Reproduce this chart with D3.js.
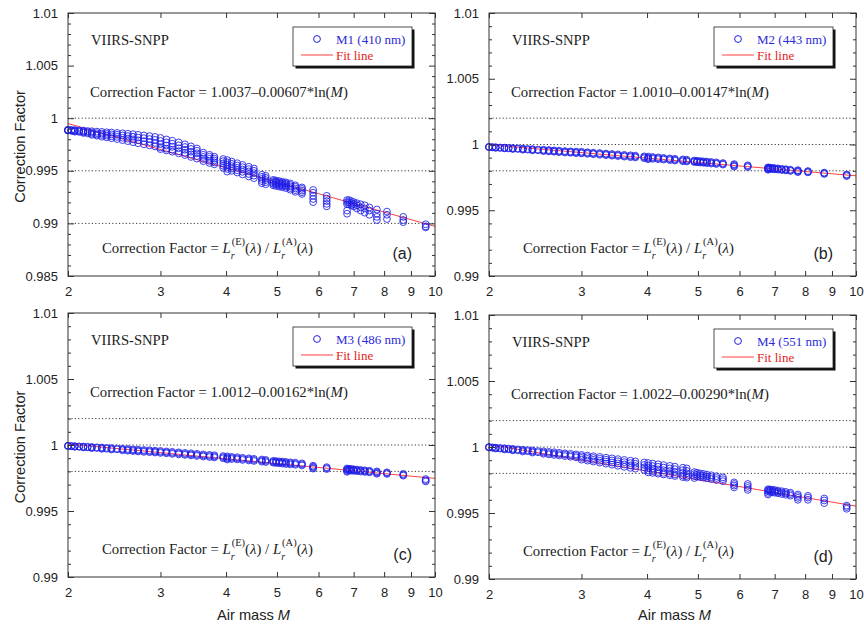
<!DOCTYPE html>
<html>
<head>
<meta charset="utf-8">
<script src="https://cdn.jsdelivr.net/npm/d3@7"></script>
<style>
  body { margin: 0; background: #fff; }
  .serif { font-family: "Liberation Serif", "Times New Roman", serif; }
  .sans  { font-family: "Liberation Sans", Arial, sans-serif; }
</style>
</head>
<body>
<svg id="chart" width="864" height="628"></svg>
<script>
"use strict";

// ==========  Data  ==========
// air mass values (shared geometry), then the correction factors seen at each one, per band
var airMass = [2.00, 2.03, 2.06, 2.10, 2.14, 2.18, 2.22, 2.27, 2.32, 2.37,
               2.42, 2.48, 2.54, 2.60, 2.66, 2.72, 2.79, 2.86, 2.93, 3.00,
               3.08, 3.16, 3.25, 3.34, 3.43, 3.52, 3.62, 3.72, 3.80, 3.95,
               4.02, 4.10, 4.20, 4.30, 4.42, 4.52, 4.68, 4.76, 4.92, 4.98,
               5.05, 5.12, 5.20, 5.30, 5.42, 5.58, 5.86, 6.22, 6.80, 6.86,
               6.93, 7.00, 7.10, 7.22, 7.35, 7.50, 7.75, 8.10, 8.70, 9.60]

var cfM1 = [
  [0.9989, 0.99888, 0.99885, 0.99882], [0.99888, 0.99884, 0.9988], [0.99887, 0.99882, 0.99876, 0.99872], [0.99884, 0.99877, 0.9987],
  [0.99882, 0.99874, 0.99866, 0.9986], [0.99878, 0.99868, 0.99856], [0.99876, 0.99864, 0.99852, 0.99842], [0.99872, 0.99858, 0.99844, 0.99834],
  [0.9987, 0.99854, 0.9984, 0.99824], [0.99866, 0.9985, 0.99834, 0.99818], [0.99864, 0.99846, 0.99828, 0.9981], [0.9986, 0.99842, 0.99822, 0.99802],
  [0.99856, 0.99836, 0.99814, 0.99792], [0.99852, 0.9983, 0.99806, 0.99782], [0.99848, 0.99824, 0.99798, 0.99772], [0.99842, 0.99816, 0.9979, 0.99762],
  [0.99836, 0.9981, 0.99782, 0.99752], [0.9983, 0.99802, 0.99774, 0.99742], [0.99822, 0.99794, 0.99764, 0.99732], [0.99812, 0.99784, 0.99754, 0.99722, 0.99706],
  [0.99798, 0.9977, 0.9974, 0.9971, 0.99694], [0.99786, 0.99758, 0.99728, 0.997, 0.99682], [0.9977, 0.99742, 0.99714, 0.99686, 0.99666], [0.99752, 0.99726, 0.997, 0.99672, 0.9965],
  [0.99732, 0.99708, 0.99682, 0.99656, 0.99632], [0.99712, 0.9969, 0.99666, 0.9964, 0.99616], [0.99672, 0.99652, 0.99632, 0.99612, 0.99592], [0.99652, 0.99634, 0.99614, 0.99594, 0.99574],
  [0.99634, 0.99616, 0.99598, 0.9958, 0.99562], [0.99612, 0.99592, 0.9957, 0.99548, 0.99528], [0.99602, 0.9958, 0.99558, 0.99538, 0.99518, 0.99492], [0.99588, 0.99566, 0.99544, 0.99522, 0.995],
  [0.99572, 0.9955, 0.99528, 0.99506, 0.99484], [0.99556, 0.99534, 0.99512, 0.9949, 0.99466], [0.99538, 0.99516, 0.99494, 0.9947, 0.99446], [0.99522, 0.995, 0.99478, 0.99454, 0.9943],
  [0.99462, 0.99442, 0.99422, 0.99402, 0.99382], [0.99452, 0.99432, 0.99412, 0.99392, 0.99372], [0.99414, 0.99402, 0.9939, 0.99376, 0.99362], [0.99408, 0.99396, 0.99384, 0.9937, 0.99356],
  [0.99402, 0.9939, 0.99378, 0.99364, 0.9935], [0.99396, 0.99384, 0.99372, 0.99358, 0.99344], [0.9939, 0.99378, 0.99364, 0.9935, 0.99336], [0.9938, 0.99366, 0.99352, 0.99336, 0.9932],
  [0.99362, 0.99348, 0.99332, 0.99316, 0.993], [0.99342, 0.99328, 0.99312, 0.99296, 0.9928], [0.99318, 0.99292, 0.99262, 0.99232, 0.99202], [0.99262, 0.99236, 0.99212, 0.99186, 0.99162],
  [0.99222, 0.99202, 0.99182, 0.99122, 0.99092], [0.99221, 0.99201, 0.99181], [0.99212, 0.99192, 0.99172], [0.99202, 0.99182, 0.99162],
  [0.99192, 0.99172, 0.99142], [0.99182, 0.99152, 0.99122], [0.99172, 0.99142, 0.99102], [0.99152, 0.99122, 0.99082],
  [0.99132, 0.99092, 0.99062, 0.99032], [0.99112, 0.99082, 0.99042], [0.99062, 0.99032, 0.99012], [0.98992, 0.98972, 0.98962]
]

var cfM2 = [
  [0.99982, 0.99981, 0.9998], [0.9998, 0.99978], [0.99979, 0.99977, 0.99975], [0.99977, 0.99974],
  [0.99976, 0.99973, 0.99971], [0.99974, 0.9997], [0.99973, 0.99969, 0.99966], [0.9997, 0.99966],
  [0.99969, 0.99965, 0.99961], [0.99966, 0.99961], [0.99965, 0.9996, 0.99956], [0.99962, 0.99956],
  [0.9996, 0.99955, 0.9995], [0.99958, 0.99952, 0.99948], [0.99955, 0.9995, 0.99945], [0.99953, 0.99947, 0.99942],
  [0.9995, 0.99944, 0.99939], [0.99948, 0.99942, 0.99937], [0.99946, 0.9994, 0.99934], [0.99945, 0.99938, 0.99932],
  [0.99941, 0.99935, 0.99929], [0.99938, 0.99932, 0.99926], [0.99935, 0.99929, 0.99922], [0.99931, 0.99925, 0.99919],
  [0.99928, 0.99921, 0.99915], [0.99925, 0.99918, 0.99912], [0.99921, 0.99914, 0.99908], [0.99918, 0.99911, 0.99904],
  [0.99915, 0.99908, 0.99902], [0.9991, 0.99903, 0.99896], [0.99908, 0.999, 0.99894, 0.99888], [0.99905, 0.99898, 0.99891],
  [0.99902, 0.99895, 0.99888], [0.99898, 0.99892, 0.99885], [0.99894, 0.99888, 0.99881], [0.99891, 0.99884, 0.99878],
  [0.99887, 0.9988, 0.99873], [0.99884, 0.99877, 0.99871], [0.99878, 0.99872, 0.99867], [0.99876, 0.9987, 0.99865],
  [0.99874, 0.99868, 0.99863], [0.99872, 0.99866, 0.99861], [0.9987, 0.99864, 0.99858], [0.99867, 0.99861, 0.99855],
  [0.99864, 0.99857, 0.99852], [0.99859, 0.99853, 0.99847], [0.99851, 0.99845, 0.99838, 0.99832], [0.99842, 0.99835, 0.99828],
  [0.99826, 0.99822, 0.99818, 0.99812, 0.99808], [0.99824, 0.9982, 0.99815], [0.99822, 0.99818, 0.99813], [0.9982, 0.99816, 0.99811],
  [0.99818, 0.99814, 0.99809], [0.99815, 0.99811, 0.99806], [0.99812, 0.99808, 0.99803], [0.99808, 0.99804, 0.99799],
  [0.99805, 0.998, 0.99795, 0.9979], [0.99798, 0.99793, 0.99788], [0.99786, 0.99781, 0.99776], [0.99772, 0.99766, 0.9976]
]

var cfM3 = [
  [0.99994, 0.99993, 0.99992], [0.99992, 0.9999], [0.99991, 0.99989, 0.99987], [0.99989, 0.99986],
  [0.99988, 0.99985, 0.99982], [0.99986, 0.99982], [0.99985, 0.9998, 0.99977], [0.99982, 0.99977],
  [0.99981, 0.99976, 0.99971], [0.99978, 0.99972], [0.99977, 0.99971, 0.99966], [0.99973, 0.99967],
  [0.99972, 0.99966, 0.9996], [0.9997, 0.99963, 0.99957], [0.99967, 0.99961, 0.99954], [0.99965, 0.99958, 0.99951],
  [0.99962, 0.99955, 0.99948], [0.9996, 0.99953, 0.99946], [0.99957, 0.9995, 0.99943], [0.99955, 0.99948, 0.9994],
  [0.99951, 0.99944, 0.99937], [0.99948, 0.9994, 0.99933], [0.99944, 0.99937, 0.99929], [0.9994, 0.99932, 0.99925],
  [0.99937, 0.99929, 0.99921], [0.99933, 0.99925, 0.99917], [0.99929, 0.99921, 0.99913], [0.99925, 0.99917, 0.99909],
  [0.99922, 0.99914, 0.99906], [0.99916, 0.99908, 0.999], [0.99914, 0.99905, 0.99897, 0.9989], [0.9991, 0.99902, 0.99894],
  [0.99907, 0.99899, 0.99891], [0.99903, 0.99895, 0.99887], [0.99899, 0.99891, 0.99883], [0.99895, 0.99887, 0.99879],
  [0.9989, 0.99882, 0.99874], [0.99887, 0.99879, 0.99871], [0.9988, 0.99873, 0.99866], [0.99878, 0.99871, 0.99864],
  [0.99876, 0.99869, 0.99862], [0.99874, 0.99867, 0.99859], [0.99872, 0.99864, 0.99856], [0.99869, 0.99861, 0.99853],
  [0.99866, 0.99858, 0.9985], [0.99861, 0.99853, 0.99845], [0.99843, 0.99836, 0.99829, 0.99821], [0.99832, 0.99825, 0.99818],
  [0.99822, 0.99816, 0.99811, 0.99803, 0.99797], [0.9982, 0.99814, 0.99808], [0.99818, 0.99812, 0.99806], [0.99816, 0.9981, 0.99804],
  [0.99814, 0.99808, 0.99802], [0.99811, 0.99805, 0.99799], [0.99808, 0.99802, 0.99796], [0.99805, 0.99799, 0.99793],
  [0.998, 0.99794, 0.99788, 0.99782], [0.99793, 0.99787, 0.99781], [0.99781, 0.99774, 0.99768], [0.99742, 0.99733, 0.99724]
]

var cfM4 = [
  [1.0, 0.99998, 0.99996], [0.99997, 0.99994], [0.99995, 0.99992, 0.99989], [0.99993, 0.99988],
  [0.99991, 0.99986, 0.99982], [0.99988, 0.99982], [0.99986, 0.9998, 0.99975], [0.99982, 0.99975],
  [0.9998, 0.99973, 0.99966], [0.99976, 0.99968], [0.99974, 0.99966, 0.99958], [0.99969, 0.9996],
  [0.99967, 0.99958, 0.99949], [0.99963, 0.99954, 0.99944], [0.9996, 0.9995, 0.9994], [0.99956, 0.99946, 0.99936],
  [0.99952, 0.99942, 0.99931], [0.99948, 0.99937, 0.99926], [0.99944, 0.99933, 0.99922], [0.9994, 0.99929, 0.99917, 0.99904],
  [0.99935, 0.99923, 0.9991, 0.99897], [0.9993, 0.99917, 0.99903, 0.9989], [0.99925, 0.99911, 0.99896, 0.99882], [0.99919, 0.99904, 0.99889, 0.99874],
  [0.99914, 0.99898, 0.99882, 0.99866], [0.99908, 0.99892, 0.99875, 0.99858], [0.99902, 0.99885, 0.99868, 0.9985], [0.99896, 0.99878, 0.9986, 0.99842],
  [0.99891, 0.99873, 0.99855, 0.99836], [0.99883, 0.99864, 0.99845, 0.99826], [0.99879, 0.9986, 0.99841, 0.99822, 0.99808], [0.99874, 0.99855, 0.99836, 0.99817, 0.99804],
  [0.99869, 0.9985, 0.9983, 0.9981, 0.99798], [0.99863, 0.99844, 0.99824, 0.99804, 0.99792], [0.99857, 0.99838, 0.99818, 0.99798, 0.99786], [0.99851, 0.99832, 0.99812, 0.99792, 0.9978],
  [0.99843, 0.99824, 0.99804, 0.99784, 0.99772], [0.99838, 0.99819, 0.998, 0.9978, 0.99768], [0.9981, 0.99795, 0.9978, 0.99765], [0.99805, 0.9979, 0.99775],
  [0.998, 0.99786, 0.99772], [0.99796, 0.99782, 0.99768], [0.99791, 0.99777, 0.99763], [0.99786, 0.99772, 0.99757],
  [0.99779, 0.99765, 0.9975], [0.9977, 0.99756, 0.99741], [0.99732, 0.9972, 0.99708, 0.99694], [0.9972, 0.99705, 0.9969, 0.99675],
  [0.9968, 0.99672, 0.99665, 0.99652, 0.9964], [0.99678, 0.9967, 0.9966], [0.99676, 0.99667, 0.99657], [0.99674, 0.99664, 0.99654],
  [0.9967, 0.9966, 0.9965], [0.99665, 0.99655, 0.99644], [0.9966, 0.99649, 0.99638], [0.99654, 0.99643, 0.99631],
  [0.9964, 0.99628, 0.99615, 0.996], [0.9963, 0.99617, 0.996], [0.9961, 0.99595, 0.99575], [0.99556, 0.99545, 0.99532]
]

var bandSeries   = [cfM1, cfM2, cfM3, cfM4]
var bandNames    = ["M1 (410 nm)", "M2 (443 nm)", "M3 (486 nm)", "M4 (551 nm)"]
var fitIntercept = ["1.0037", "1.0010", "1.0012", "1.0022"]
var fitSlope     = ["0.00607", "0.00147", "0.00162", "0.00290"]
var fitEndMass   = [2, 10]
var fitEndValue  = [[0.99949, 0.98972], [0.99998, 0.99762], [1.00008, 0.99747], [1.00019, 0.99552]]
var panelTags    = ["(a)", "(b)", "(c)", "(d)"]
var yDomains     = [[0.985, 1.01], [0.99, 1.01], [0.99, 1.01], [0.99, 1.01]]
var refLevels    = [[1, 0.995, 0.99], [1.002, 1, 0.998], [1.002, 1, 0.998], [1.002, 1, 0.998]]
var xTicks       = [2, 3, 4, 5, 6, 7, 8, 9, 10]

// ==========  Layout  ==========
var layout = [
  {left: 68,  top: 13,  width: 367, height: 263, yTitle: true,  xTitle: false},
  {left: 489, top: 13,  width: 367, height: 263, yTitle: false, xTitle: false},
  {left: 68,  top: 313, width: 367, height: 264, yTitle: true,  xTitle: true},
  {left: 489, top: 315, width: 367, height: 264, yTitle: false, xTitle: true}
]
var ink = "#333"

var svg = d3.select('#chart')

var styleAxis = function(g) {
  g.select('.domain').remove()
  g.selectAll('line').attr('stroke', ink)
  g.selectAll('text').attr('class', 'sans').attr('font-size', 13).attr('fill', '#222')
  g.attr('font-family', null).attr('font-size', null)
}

var drawPanel = function(p, i) {
  var g = svg.append('g').attr('transform', 'translate(' + p.left + ',' + p.top + ')')
  var x = d3.scaleLog().domain([2, 10]).range([0, p.width])
  var y = d3.scaleLinear().domain(yDomains[i]).range([p.height, 0])

  var y0 = yDomains[i][0], y1 = yDomains[i][1]
  var major = d3.range(Math.round((y1 - y0) / 0.005) + 1).map(function(k) { return +(y0 + k * 0.005).toFixed(3) })
  var minor = d3.range(Math.round((y1 - y0) / 0.001) + 1).map(function(k) { return +(y0 + k * 0.001).toFixed(3) })
                .filter(function(v) { return major.indexOf(v) < 0 })

  // dotted reference levels
  g.selectAll('line.ref').data(refLevels[i]).enter().append('line').attr('class', 'ref')
    .attr('x1', 0).attr('x2', p.width)
    .attr('y1', function(d) { return y(d) }).attr('y2', function(d) { return y(d) })
    .attr('stroke', '#222').attr('stroke-width', 0.9).attr('stroke-dasharray', '1.2,2.2')

  // fit line (straight in log-x)
  var fitPts = fitEndMass.map(function(m, k) { return [m, fitEndValue[i][k]] })
  g.append('path').datum(fitPts)
    .attr('d', d3.line().x(function(d) { return x(d[0]) }).y(function(d) { return y(d[1]) }))
    .attr('fill', 'none').attr('stroke', '#ff2a2a').attr('stroke-width', 0.9)

  // observations
  var pts = []
  airMass.forEach(function(m, k) {
    bandSeries[i][k].forEach(function(v) { pts.push([m, v]) })
  })
  g.append('g').selectAll('circle').data(pts).enter().append('circle')
    .attr('cx', function(d) { return x(d[0]) })
    .attr('cy', function(d) { return y(d[1]) })
    .attr('r', 3.4)
    .attr('fill', 'none').attr('stroke', '#1f1fe8').attr('stroke-opacity', 0.85).attr('stroke-width', 1)

  // axes, ticks pointing inward
  var fmt = function(v) { return String(+v.toFixed(3)) }
  g.append('g').call(d3.axisLeft(y).tickValues(major).tickSizeInner(-6).tickSizeOuter(0).tickPadding(10).tickFormat(fmt)).call(styleAxis)
  g.append('g').call(d3.axisLeft(y).tickValues(minor).tickSizeInner(-3).tickSizeOuter(0).tickFormat('')).call(styleAxis)
  g.append('g').attr('transform', 'translate(' + p.width + ',0)')
    .call(d3.axisRight(y).tickValues(major).tickSizeInner(-6).tickSizeOuter(0).tickFormat('')).call(styleAxis)
  g.append('g').attr('transform', 'translate(' + p.width + ',0)')
    .call(d3.axisRight(y).tickValues(minor).tickSizeInner(-3).tickSizeOuter(0).tickFormat('')).call(styleAxis)
  g.append('g').attr('transform', 'translate(0,' + p.height + ')')
    .call(d3.axisBottom(x).tickValues(xTicks).tickSizeInner(-5).tickSizeOuter(0).tickPadding(11).tickFormat(d3.format('d'))).call(styleAxis)
  g.append('g').call(d3.axisTop(x).tickValues(xTicks).tickSizeInner(-5).tickSizeOuter(0).tickFormat('')).call(styleAxis)

  g.append('rect').attr('width', p.width).attr('height', p.height)
    .attr('fill', 'none').attr('stroke', ink).attr('stroke-width', 1)

  // texts inside the frame
  g.append('text').attr('class', 'serif').attr('x', 23).attr('y', 32).attr('font-size', 14.6).attr('fill', '#222').text('VIIRS-SNPP')

  var eq = g.append('text').attr('class', 'serif').attr('x', 22).attr('y', 84).attr('font-size', 14.8).attr('fill', '#222')
  eq.append('tspan').text('Correction Factor = ' + fitIntercept[i] + '\u2013' + fitSlope[i] + '*ln(')
  eq.append('tspan').attr('font-style', 'italic').text('M')
  eq.append('tspan').text(')')

  var ratio = g.append('text').attr('class', 'serif').attr('x', 34).attr('y', p.height - 23).attr('font-size', 14.8).attr('fill', '#222')
  ratio.append('tspan').text('Correction Factor = ')
  var addRadiance = function(tag) {
    ratio.append('tspan').attr('font-style', 'italic').text('L')
    ratio.append('tspan').attr('font-style', 'italic').attr('font-size', 10).attr('dy', 6).text('r')
    ratio.append('tspan').attr('font-size', 10.5).attr('dx', -3).attr('dy', -14).text('(' + tag + ')')
    ratio.append('tspan').attr('dy', 8).text('(')
    ratio.append('tspan').attr('font-style', 'italic').text('\u03bb')
    ratio.append('tspan').text(')')
  }
  addRadiance('E')
  ratio.append('tspan').text(' / ')
  addRadiance('A')

  g.append('text').attr('class', 'sans').attr('x', p.width - 23).attr('y', p.height - 17)
    .attr('text-anchor', 'end').attr('font-size', 16).attr('fill', '#222').text(panelTags[i])

  // legend
  var lx = p.width - 23 - 119, ly = 14
  var leg = g.append('g').attr('transform', 'translate(' + lx + ',' + ly + ')')
  leg.append('rect').attr('x', 2.5).attr('y', 2.5).attr('width', 119).attr('height', 39).attr('fill', '#111')
  leg.append('rect').attr('width', 119).attr('height', 39).attr('fill', '#fff').attr('stroke', '#222').attr('stroke-width', 0.8)
  leg.append('circle').attr('cx', 24).attr('cy', 12).attr('r', 3.4)
    .attr('fill', 'none').attr('stroke', '#1f1fe8').attr('stroke-width', 1)
  leg.append('text').attr('class', 'serif').attr('x', 43).attr('y', 17).attr('font-size', 13).attr('fill', '#2b2bd9').text(bandNames[i])
  leg.append('line').attr('x1', 8).attr('x2', 40).attr('y1', 28).attr('y2', 28).attr('stroke', '#ff2a2a').attr('stroke-width', 0.9)
  leg.append('text').attr('class', 'serif').attr('x', 43).attr('y', 33).attr('font-size', 13).attr('fill', '#e52222').text('Fit line')

  // axis titles
  if (p.yTitle)
    svg.append('text').attr('class', 'sans').attr('font-size', 14.6).attr('fill', '#222')
      .attr('text-anchor', 'middle')
      .attr('transform', 'translate(25,' + (p.top + p.height / 2 + 2) + ') rotate(-90)')
      .text('Correction Factor')
  if (p.xTitle) {
    var xt = svg.append('text').attr('class', 'sans').attr('font-size', 14.6).attr('fill', '#222')
      .attr('text-anchor', 'middle').attr('x', p.left + p.width / 2 + 2).attr('y', 620)
    xt.append('tspan').text('Air mass ')
    xt.append('tspan').attr('font-style', 'italic').text('M')
  }
}

layout.forEach(drawPanel)
</script>
</body>
</html>
